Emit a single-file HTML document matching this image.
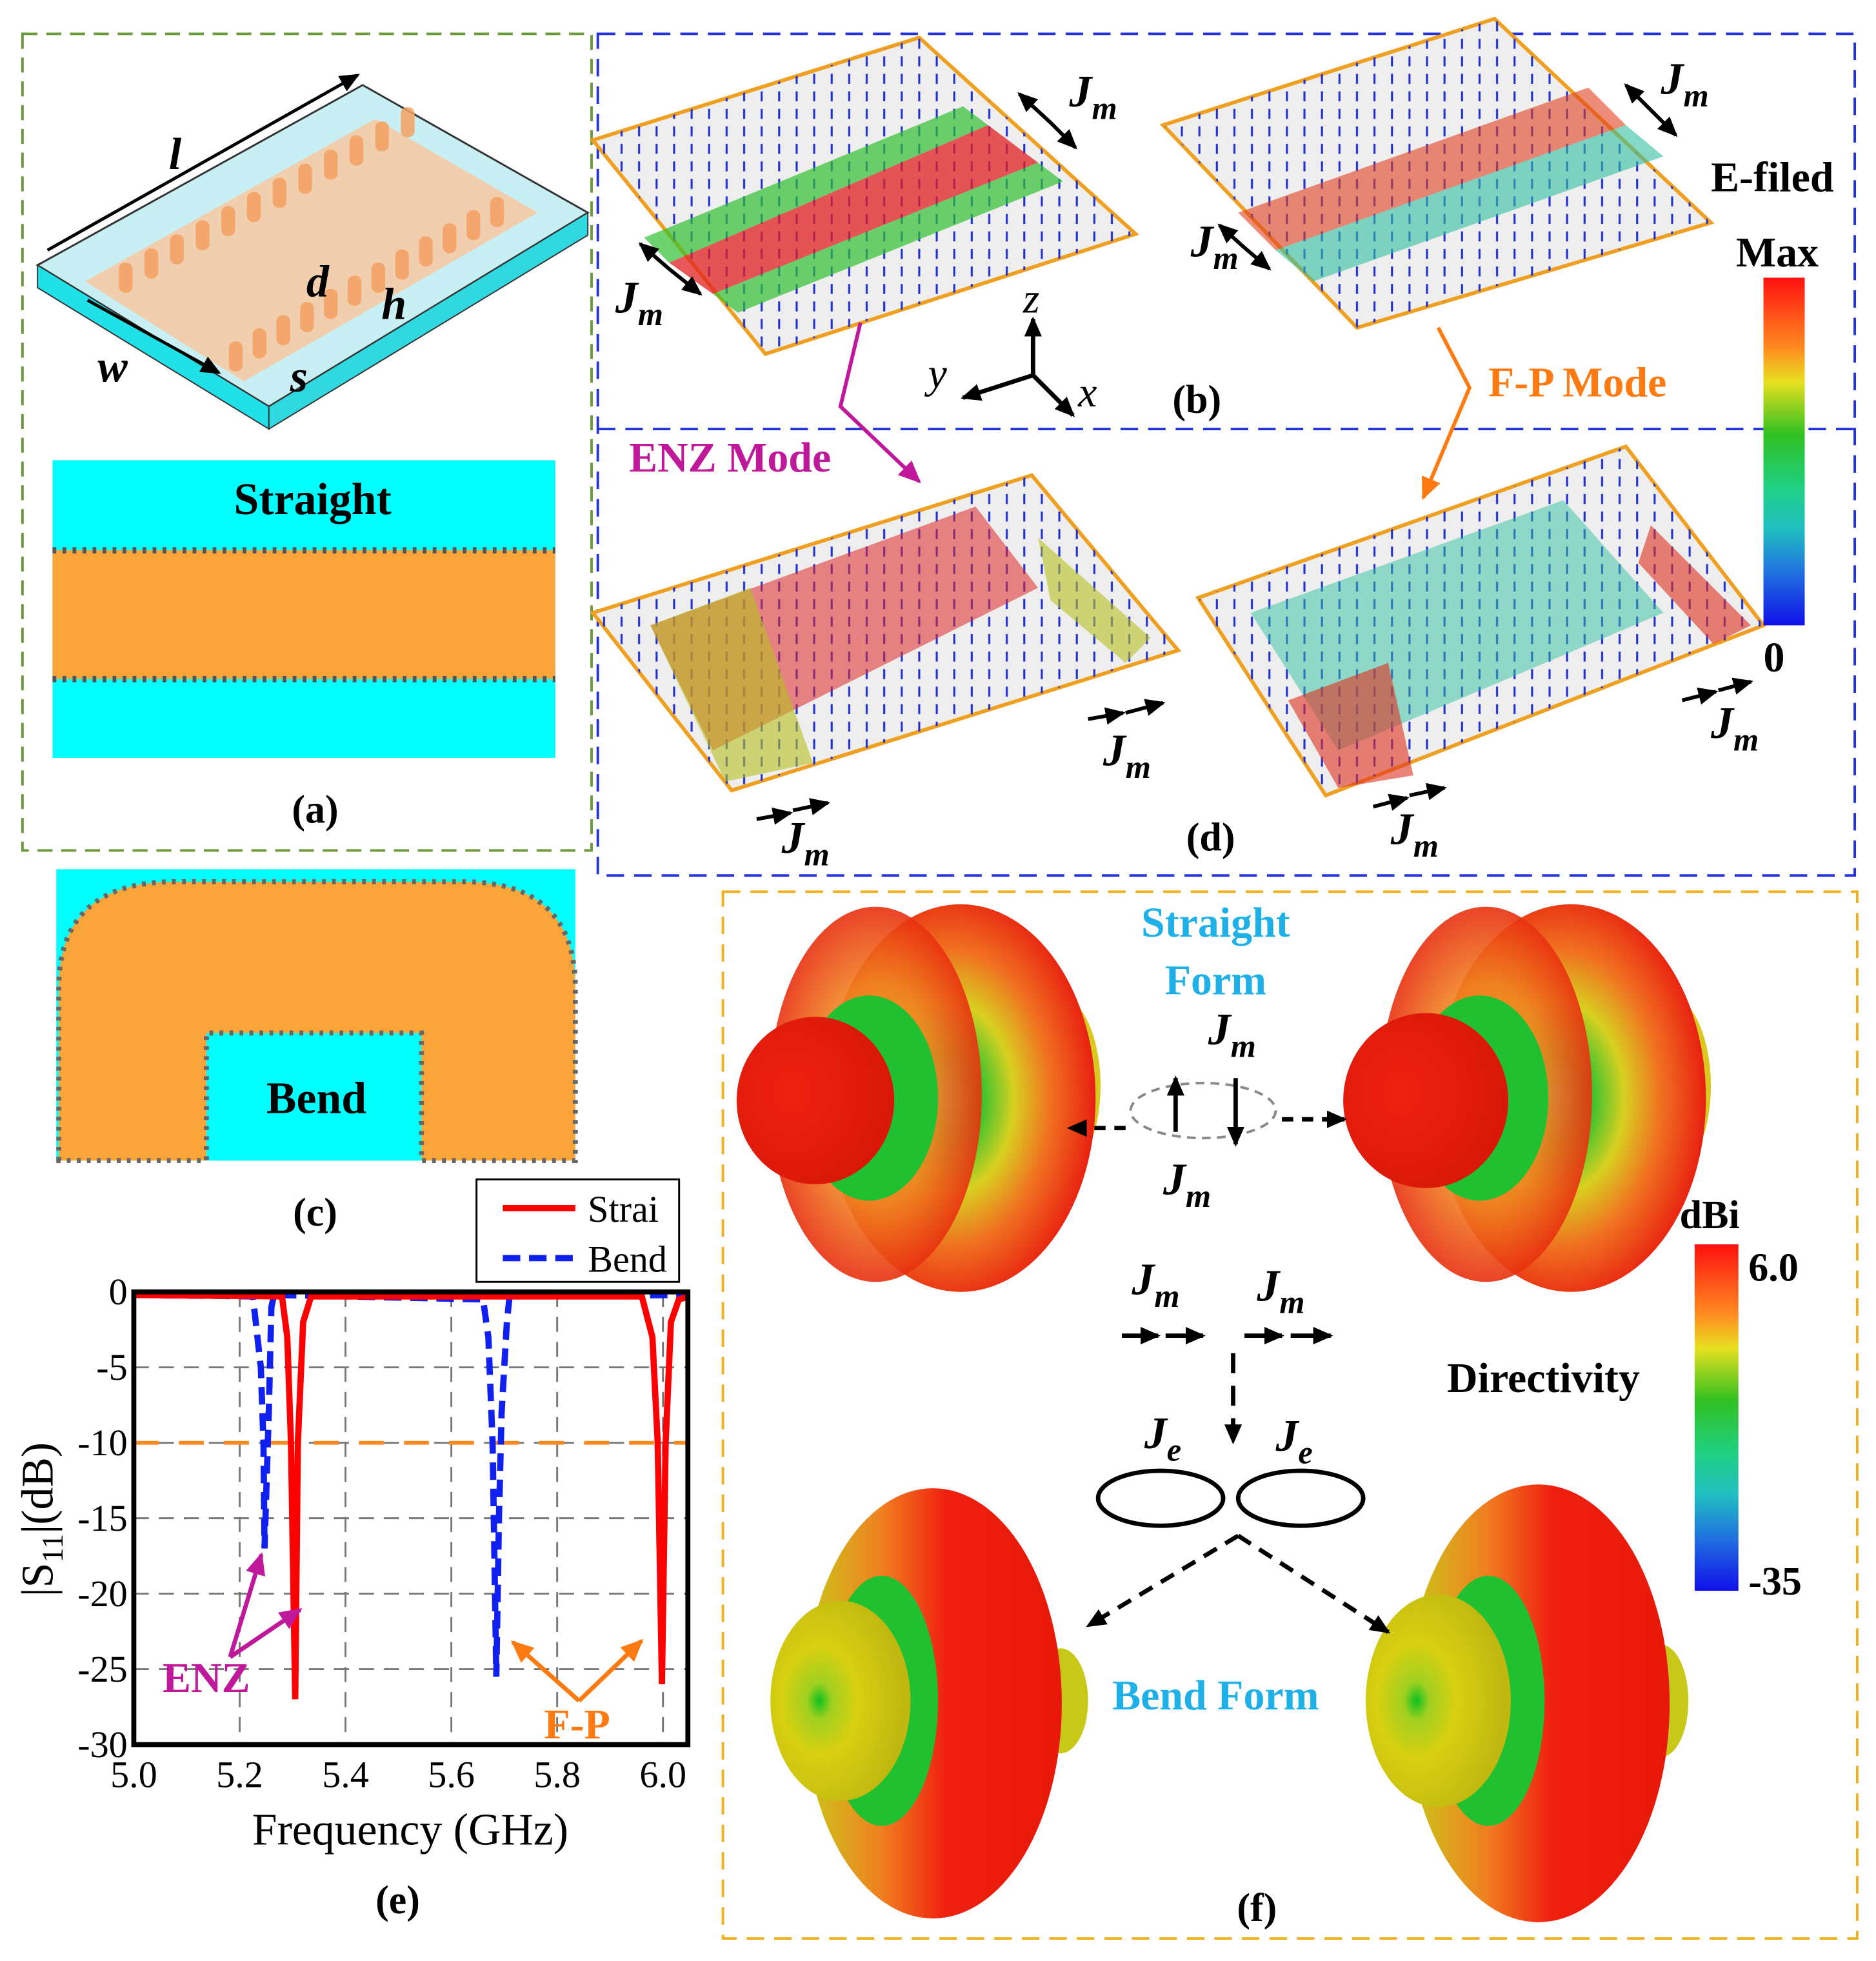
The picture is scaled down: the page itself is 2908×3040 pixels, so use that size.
<!DOCTYPE html>
<html><head><meta charset="utf-8"><style>
html,body{margin:0;padding:0;background:#fff;}
svg{display:block;font-family:"Liberation Serif",serif;}
</style></head><body>
<svg id="fig" width="2908" height="3040" viewBox="0 0 1500 1568" xmlns="http://www.w3.org/2000/svg">
<defs>
<linearGradient id="ecb" x1="0" y1="0" x2="0" y2="1">
<stop offset="0" stop-color="#ff1010"/><stop offset="0.2" stop-color="#ff8a20"/><stop offset="0.3" stop-color="#e8e020"/><stop offset="0.45" stop-color="#30c020"/><stop offset="0.6" stop-color="#20d080"/><stop offset="0.72" stop-color="#20c0c0"/><stop offset="0.85" stop-color="#2070e0"/><stop offset="1" stop-color="#1010e8"/></linearGradient>
<pattern id="arr" width="14" height="14" patternUnits="userSpaceOnUse"><line x1="7" y1="3" x2="7" y2="11" stroke="#2030d0" stroke-width="1.6"/></pattern>
<radialGradient id="body" cx="0.45" cy="0.5" r="0.55"><stop offset="0" stop-color="#20c0b0"/><stop offset="0.2" stop-color="#20c030"/><stop offset="0.45" stop-color="#d8d020"/><stop offset="0.7" stop-color="#f07020"/><stop offset="1" stop-color="#e82010"/></radialGradient>
<radialGradient id="ringlobe" cx="0.5" cy="0.5" r="0.5"><stop offset="0" stop-color="#e8c020"/><stop offset="0.6" stop-color="#f08020"/><stop offset="1" stop-color="#e83010"/></radialGradient>
<radialGradient id="front" cx="0.35" cy="0.45" r="0.65"><stop offset="0" stop-color="#f02010"/><stop offset="1" stop-color="#d81808"/></radialGradient>
<linearGradient id="bendbody" x1="0" y1="0" x2="1" y2="0"><stop offset="0" stop-color="#c8c818"/><stop offset="0.3" stop-color="#f08020"/><stop offset="0.55" stop-color="#f02010"/><stop offset="1" stop-color="#e81808"/></linearGradient>
<radialGradient id="ring" cx="0.35" cy="0.5" r="0.6"><stop offset="0" stop-color="#10c020"/><stop offset="0.15" stop-color="#a0d020"/><stop offset="0.45" stop-color="#d8d010"/><stop offset="1" stop-color="#c0b810"/></radialGradient>
<marker id="ah" markerUnits="userSpaceOnUse" markerWidth="16" markerHeight="14" refX="14" refY="7" orient="auto"><path d="M0,0 L16,7 L0,14 Z" fill="#000"/></marker>
<marker id="ahm" markerUnits="userSpaceOnUse" markerWidth="18" markerHeight="16" refX="16" refY="8" orient="auto"><path d="M0,0 L18,8 L0,16 Z" fill="#c0189a"/></marker>
<marker id="aho" markerUnits="userSpaceOnUse" markerWidth="18" markerHeight="16" refX="16" refY="8" orient="auto"><path d="M0,0 L18,8 L0,16 Z" fill="#ff7a10"/></marker>
</defs>

<!-- panel (a) -->
<rect x="18" y="27" width="455" height="653" fill="none" stroke="#6a9a3a" stroke-width="2" stroke-dasharray="12,7"/>
<g>
<path d="M30,212 L290,68 L470,170 L215,325 Z" fill="#c8f0f4" stroke="#333" stroke-width="1.5"/>
<path d="M30,212 L215,325 L215,343 L30,230 Z" fill="#20e0e8" stroke="#333" stroke-width="1"/>
<path d="M215,325 L470,170 L470,188 L215,343 Z" fill="#30d8e0" stroke="#333" stroke-width="1"/>
<path d="M68,225 L300,95 L430,170 L195,305 Z" fill="#f8c8a0" opacity="0.85"/>
</g>
<g id="vias"></g>
<g font-style="italic" font-weight="bold" font-size="36">
<line x1="38" y1="200" x2="286" y2="60" stroke="#000" stroke-width="2.5" marker-end="url(#ah)"/>
<text x="135" y="135">l</text><text x="78" y="305">w</text><text x="245" y="237">d</text><text x="305" y="255">h</text><text x="232" y="313">s</text>
<line x1="70" y1="240" x2="175" y2="298" stroke="#000" stroke-width="2.5" marker-end="url(#ah)"/>
</g>
<g>
<rect x="42" y="368" width="402" height="238" fill="#00ffff"/>
<rect x="42" y="440" width="402" height="103" fill="#fba43a"/>
<line x1="42" y1="440" x2="444" y2="440" stroke="#555" stroke-width="5" stroke-dasharray="3,5"/>
<line x1="42" y1="543" x2="444" y2="543" stroke="#555" stroke-width="5" stroke-dasharray="3,5"/>
<text x="250" y="411" text-anchor="middle" font-size="36" font-weight="bold">Straight</text>
</g>
<text x="252" y="658" text-anchor="middle" font-size="32" font-weight="bold">(a)</text>

<!-- panel (c) bend -->
<g>
<rect x="45" y="695" width="415" height="233" fill="#00ffff"/>
<path d="M47,928 V790 Q47,705 140,705 H370 Q460,705 460,790 V928 H337 V826 H165 V928 Z" fill="#fba43a" stroke="#666" stroke-width="4" stroke-dasharray="3,5"/>
<rect x="172" y="830" width="162" height="98" fill="#00ffff"/>
<text x="253" y="890" text-anchor="middle" font-size="36" font-weight="bold">Bend</text>
</g>
<text x="252" y="980" text-anchor="middle" font-size="32" font-weight="bold">(c)</text>

<!-- panel b/d -->
<rect x="478" y="27" width="1005" height="673" fill="none" stroke="#2233dd" stroke-width="2" stroke-dasharray="14,8"/>
<line x1="478" y1="343" x2="1483" y2="343" stroke="#2233dd" stroke-width="2" stroke-dasharray="14,8"/>
<g>
<path d="M474,112 L735,30 L908,187 L612,283 Z" fill="#eeeeee" stroke="#f0a020" stroke-width="3"/>
<path d="M474,112 L735,30 L908,187 L612,283 Z" fill="url(#arr)"/>
<path d="M535,210 L790,100 L830,130 L570,235 Z" fill="#e02020" opacity="0.75"/>
<path d="M515,190 L770,85 L790,100 L535,210 Z" fill="#30c030" opacity="0.7"/>
<path d="M570,235 L830,130 L850,145 L590,250 Z" fill="#30c030" opacity="0.7"/>
</g>
<g>
<path d="M930,100 L1195,15 L1368,178 L1085,262 Z" fill="#eeeeee" stroke="#f0a020" stroke-width="3"/>
<path d="M930,100 L1195,15 L1368,178 L1085,262 Z" fill="url(#arr)"/>
<path d="M990,170 L1270,70 L1300,100 L1020,200 Z" fill="#e04020" opacity="0.6"/>
<path d="M1020,200 L1300,100 L1330,125 L1050,225 Z" fill="#30c0a0" opacity="0.6"/>
</g>
<g>
<path d="M474,490 L825,380 L942,520 L585,632 Z" fill="#eeeeee" stroke="#f0a020" stroke-width="3"/>
<path d="M474,490 L825,380 L942,520 L585,632 Z" fill="url(#arr)"/>
<path d="M520,500 L780,405 L830,470 L570,600 Z" fill="#e02828" opacity="0.55"/>
<path d="M520,500 L600,470 L650,610 L580,625 Z" fill="#b8c020" opacity="0.6"/>
<path d="M830,430 L920,510 L900,530 L840,480 Z" fill="#b8c020" opacity="0.6"/>
</g>
<g>
<path d="M958,478 L1300,357 L1410,500 L1060,636 Z" fill="#eeeeee" stroke="#f0a020" stroke-width="3"/>
<path d="M958,478 L1300,357 L1410,500 L1060,636 Z" fill="url(#arr)"/>
<path d="M1000,490 L1250,400 L1330,490 L1070,600 Z" fill="#30c0a0" opacity="0.5"/>
<path d="M1030,560 L1110,530 L1130,620 L1070,630 Z" fill="#e03020" opacity="0.6"/>
<path d="M1320,420 L1400,500 L1370,515 L1310,450 Z" fill="#e03020" opacity="0.6"/>
</g>
<g font-style="italic" font-weight="bold" font-size="36">
<text x="855" y="85">J<tspan font-size="26" dy="10">m</tspan></text>
<text x="492" y="250">J<tspan font-size="26" dy="10">m</tspan></text>
<text x="1328" y="75">J<tspan font-size="26" dy="10">m</tspan></text>
<text x="952" y="205">J<tspan font-size="26" dy="10">m</tspan></text>
<text x="882" y="612">J<tspan font-size="26" dy="10">m</tspan></text>
<text x="625" y="682">J<tspan font-size="26" dy="10">m</tspan></text>
<text x="1368" y="590">J<tspan font-size="26" dy="10">m</tspan></text>
<text x="1112" y="675">J<tspan font-size="26" dy="10">m</tspan></text>
</g>
<g stroke="#000" stroke-width="3" marker-end="url(#ah)">
<line x1="840" y1="98" x2="815" y2="75"/><line x1="840" y1="98" x2="860" y2="118"/>
<line x1="535" y1="215" x2="560" y2="235"/><line x1="535" y1="215" x2="512" y2="195"/>
<line x1="1320" y1="88" x2="1300" y2="68"/><line x1="1320" y1="88" x2="1340" y2="108"/>
<line x1="995" y1="198" x2="1015" y2="215"/><line x1="995" y1="198" x2="975" y2="180"/>
<line x1="870" y1="575" x2="898" y2="570"/><line x1="900" y1="570" x2="930" y2="562"/>
<line x1="605" y1="655" x2="632" y2="650"/><line x1="634" y1="648" x2="662" y2="642"/>
<line x1="1345" y1="560" x2="1372" y2="553"/><line x1="1374" y1="552" x2="1400" y2="545"/>
<line x1="1098" y1="645" x2="1125" y2="638"/><line x1="1127" y1="636" x2="1155" y2="630"/>
</g>
<g stroke="#000" stroke-width="3.5">
<line x1="826" y1="300" x2="826" y2="255" marker-end="url(#ah)"/>
<line x1="826" y1="300" x2="770" y2="318" marker-end="url(#ah)"/>
<line x1="826" y1="300" x2="858" y2="332" marker-end="url(#ah)"/>
<g stroke="none" font-style="italic" font-size="34"><text x="818" y="250">z</text><text x="742" y="310">y</text><text x="862" y="325">x</text></g>
</g>
<text x="957" y="330" text-anchor="middle" font-size="32" font-weight="bold">(b)</text>
<text x="968" y="680" text-anchor="middle" font-size="32" font-weight="bold">(d)</text>
<text x="503" y="377" font-size="34" font-weight="bold" fill="#c0189a">ENZ Mode</text>
<polyline points="688,258 672,325 735,385" fill="none" stroke="#c0189a" stroke-width="3" marker-end="url(#ahm)"/>
<text x="1190" y="317" font-size="34" font-weight="bold" fill="#ff7a10">F-P Mode</text>
<polyline points="1150,262 1175,310 1138,398" fill="none" stroke="#ff7a10" stroke-width="3" marker-end="url(#aho)"/>
<text x="1368" y="153" font-size="34" font-weight="bold">E-filed</text>
<text x="1388" y="213" font-size="34" font-weight="bold">Max</text>
<rect x="1410" y="222" width="33" height="278" fill="url(#ecb)"/>
<text x="1410" y="537" font-size="34" font-weight="bold">0</text>

<!-- panel (e) chart -->
<g id="chart"></g>
<text x="318" y="1530" text-anchor="middle" font-size="32" font-weight="bold">(e)</text>

<!-- panel (f) -->
<rect x="578" y="713" width="907" height="837" fill="none" stroke="#f0b020" stroke-width="2" stroke-dasharray="14,8"/>
<g>
<ellipse cx="842" cy="868" rx="38" ry="75" fill="#d8c820"/>
<ellipse cx="768" cy="878" rx="108" ry="155" fill="url(#body)"/>
<ellipse cx="700" cy="875" rx="85" ry="150" fill="url(#ringlobe)" opacity="0.9"/>
<ellipse cx="695" cy="878" rx="55" ry="82" fill="#20c030"/>
<ellipse cx="652" cy="880" rx="63" ry="67" fill="url(#front)"/>
</g>
<g>
<ellipse cx="1330" cy="868" rx="38" ry="75" fill="#d8c820"/>
<ellipse cx="1256" cy="878" rx="108" ry="155" fill="url(#body)"/>
<ellipse cx="1188" cy="875" rx="85" ry="150" fill="url(#ringlobe)" opacity="0.9"/>
<ellipse cx="1183" cy="878" rx="55" ry="82" fill="#20c030"/>
<ellipse cx="1140" cy="880" rx="66" ry="70" fill="url(#front)"/>
</g>
<g>
<ellipse cx="848" cy="1360" rx="22" ry="42" fill="#c8c818"/>
<ellipse cx="746" cy="1362" rx="103" ry="172" fill="url(#bendbody)"/>
<ellipse cx="705" cy="1360" rx="45" ry="100" fill="#20c030"/>
<ellipse cx="672" cy="1360" rx="56" ry="80" fill="url(#ring)"/>
</g>
<g>
<ellipse cx="1328" cy="1360" rx="22" ry="45" fill="#c8c818"/>
<ellipse cx="1230" cy="1362" rx="105" ry="175" fill="url(#bendbody)"/>
<ellipse cx="1190" cy="1360" rx="45" ry="100" fill="#20c030"/>
<ellipse cx="1150" cy="1360" rx="58" ry="85" fill="url(#ring)"/>
</g>
<text x="972" y="749" text-anchor="middle" font-size="34" font-weight="bold" fill="#20b0e8">Straight</text>
<text x="972" y="795" text-anchor="middle" font-size="34" font-weight="bold" fill="#20b0e8">Form</text>
<text x="972" y="1367" text-anchor="middle" font-size="34" font-weight="bold" fill="#20b0e8">Bend Form</text>
<g stroke="#000" stroke-width="3.5" fill="none">
<ellipse cx="962" cy="888" rx="58" ry="22" stroke="#888" stroke-width="2" stroke-dasharray="7,5"/>
<line x1="940" y1="905" x2="940" y2="862" marker-end="url(#ah)"/><line x1="988" y1="862" x2="988" y2="915" marker-end="url(#ah)"/>
<line x1="900" y1="902" x2="855" y2="902" stroke-dasharray="9,7" marker-end="url(#ah)"/>
<line x1="1025" y1="895" x2="1075" y2="895" stroke-dasharray="9,7" marker-end="url(#ah)"/>
<line x1="897" y1="1068" x2="926" y2="1068" marker-end="url(#ah)"/><line x1="932" y1="1068" x2="962" y2="1068" marker-end="url(#ah)"/>
<line x1="995" y1="1068" x2="1025" y2="1068" marker-end="url(#ah)"/><line x1="1032" y1="1068" x2="1064" y2="1068" marker-end="url(#ah)"/>
<line x1="986" y1="1082" x2="986" y2="1153" stroke-dasharray="16,10" marker-end="url(#ah)"/>
<ellipse cx="928" cy="1198" rx="50" ry="22"/><ellipse cx="1040" cy="1198" rx="50" ry="22"/>
<line x1="990" y1="1228" x2="870" y2="1300" stroke-dasharray="12,8" marker-end="url(#ah)"/>
<line x1="990" y1="1228" x2="1110" y2="1305" stroke-dasharray="12,8" marker-end="url(#ah)"/>
</g>
<g font-style="italic" font-weight="bold" font-size="36">
<text x="966" y="835">J<tspan font-size="26" dy="10">m</tspan></text>
<text x="930" y="955">J<tspan font-size="26" dy="10">m</tspan></text>
<text x="905" y="1035">J<tspan font-size="26" dy="10">m</tspan></text>
<text x="1005" y="1040">J<tspan font-size="26" dy="10">m</tspan></text>
<text x="915" y="1158">J<tspan font-size="26" dy="10">e</tspan></text>
<text x="1020" y="1160">J<tspan font-size="26" dy="10">e</tspan></text>
</g>
<text x="1343" y="982" font-size="32" font-weight="bold">dBi</text>
<rect x="1355" y="995" width="35" height="277" fill="url(#ecb)"/>
<text x="1398" y="1024" font-size="32" font-weight="bold">6.0</text>
<text x="1398" y="1275" font-size="32" font-weight="bold">-35</text>
<text x="1157" y="1113" font-size="34" font-weight="bold">Directivity</text>
<text x="1005" y="1536" text-anchor="middle" font-size="32" font-weight="bold">(f)</text>
</svg>
<script>
const NS="http://www.w3.org/2000/svg";
function mk(p,t,a){const e=document.createElementNS(NS,t);for(const k in a)e.setAttribute(k,a[k]);p.appendChild(e);return e;}
// vias
const vg=document.getElementById('vias');
for(let i=0;i<12;i++){
 const x1=100+i*20.5,y1=232-i*11.3; const r1=mk(vg,'rect',{x:x1-5,y:y1-22,width:11,height:24,rx:5,fill:'#f5a060',opacity:0.85});
 
 
 const x2=188+i*19,y2=295-i*10.5; const r2=mk(vg,'rect',{x:x2-5,y:y2-22,width:11,height:24,rx:5,fill:'#f5a060',opacity:0.85});
 
 
}
// chart data
const xTicks=[5.0,5.2,5.4,5.6,5.8,6.0];
const xTickLabels=["5.0","5.2","5.4","5.6","5.8","6.0"];
const yTicks=[0,-5,-10,-15,-20,-25,-30];
const yTickLabels=["0","-5","-10","-15","-20","-25","-30"];
const straiFreq=[5.0,5.28,5.29,5.297,5.305,5.31,5.32,5.335,5.96,5.98,5.99,5.998,6.005,6.015,6.03,6.05];
const straiS11=[-0.2,-0.3,-3,-10,-27,-10,-2,-0.3,-0.3,-3,-10,-26,-10,-2,-0.5,-0.3];
const bendFreq=[5.0,5.225,5.24,5.245,5.247,5.255,5.26,5.265,5.66,5.67,5.678,5.685,5.69,5.695,5.705,5.71,6.05];
const bendS11=[-0.2,-0.3,-5,-10,-17,-8,-1,-0.2,-0.5,-3,-10,-25.5,-15,-8,-2,-0.3,-0.2];
const refLevel=-10;
const X0=107,X1=550,Y0=1033,Y1=1395,FMIN=5.0,FMAX=6.047,VMIN=-30,VMAX=0;
const sx=f=>X0+(f-FMIN)/(FMAX-FMIN)*(X1-X0);
const sy=v=>Y0+(VMAX-v)/(VMAX-VMIN)*(Y1-Y0);
const c=document.getElementById('chart');
xTicks.forEach((t,i)=>{
 if(i>0){const g=mk(c,'line',{x1:sx(t),x2:sx(t),y1:Y0,y2:Y1,stroke:'#777','stroke-width':1.5,'stroke-dasharray':'12,8'});
 
 }
 const tx=mk(c,'text',{x:sx(t),y:Y1+34,'text-anchor':'middle','font-size':30});tx.textContent=xTickLabels[i];
 
 
});
yTicks.forEach((t,i)=>{
 if(t!==0&&t!==-30){const g=mk(c,'line',{x1:X0,x2:X1,y1:sy(t),y2:sy(t),stroke:'#777','stroke-width':1.5,'stroke-dasharray':'12,8'});
 
 }
 const tx=mk(c,'text',{x:X0-5,y:sy(t)+10,'text-anchor':'end','font-size':30});tx.textContent=yTickLabels[i];
 
 
});
const rl=mk(c,'line',{x1:X0,x2:X1,y1:sy(refLevel),y2:sy(refLevel),stroke:'#ff8a20','stroke-width':3,'stroke-dasharray':'20,16'});


const ps=(fx,vy)=>fx.map((f,i)=>sx(f)+','+sy(vy[i])).join(' ');
const bl=mk(c,'polyline',{points:ps(bendFreq,bendS11),fill:'none',stroke:'#1020f0','stroke-width':5,'stroke-dasharray':'14,7'});


const sl=mk(c,'polyline',{points:ps(straiFreq,straiS11),fill:'none',stroke:'#ff0000','stroke-width':5});


const fr=mk(c,'rect',{x:X0,y:Y0,width:X1-X0,height:Y1-Y0,fill:'none',stroke:'#000','stroke-width':4});


const xl=mk(c,'text',{x:328,y:1475,'text-anchor':'middle','font-size':36});xl.textContent='Frequency (GHz)';


const yl=mk(c,'text',{x:0,y:0,'text-anchor':'middle','font-size':36,transform:'translate(42,1215) rotate(-90)'});yl.innerHTML='|S<tspan font-size="24" dy="8">11</tspan><tspan dy="-8">|(dB)</tspan>';


// legend
const lg=mk(c,'g',{});


mk(lg,'rect',{x:381,y:943,width:162,height:82,fill:'#fff',stroke:'#000','stroke-width':1.5});
mk(lg,'line',{x1:402,x2:460,y1:966,y2:966,stroke:'#ff0000','stroke-width':5});
mk(lg,'line',{x1:402,x2:460,y1:1006,y2:1006,stroke:'#1020f0','stroke-width':5,'stroke-dasharray':'14,7'});
const l1=mk(lg,'text',{x:470,y:977,'font-size':30});l1.textContent='Strai';


const l2=mk(lg,'text',{x:470,y:1017,'font-size':30});l2.textContent='Bend';


// annotations
const an=mk(c,'g',{});


mk(an,'polyline',{points:'184,1325 209,1243',fill:'none',stroke:'#c0189a','stroke-width':3.5,'marker-end':'url(#ahm)'});
mk(an,'polyline',{points:'184,1325 240,1287',fill:'none',stroke:'#c0189a','stroke-width':3.5,'marker-end':'url(#ahm)'});
const t1=mk(an,'text',{x:130,y:1353,'font-size':34,'font-weight':'bold',fill:'#c0189a'});t1.textContent='ENZ';
mk(an,'polyline',{points:'463,1360 410,1313',fill:'none',stroke:'#ff7a10','stroke-width':3.5,'marker-end':'url(#aho)'});
mk(an,'polyline',{points:'463,1360 513,1312',fill:'none',stroke:'#ff7a10','stroke-width':3.5,'marker-end':'url(#aho)'});
const t2=mk(an,'text',{x:435,y:1390,'font-size':34,'font-weight':'bold',fill:'#ff7a10'});t2.textContent='F-P';
</script>
</body></html>
